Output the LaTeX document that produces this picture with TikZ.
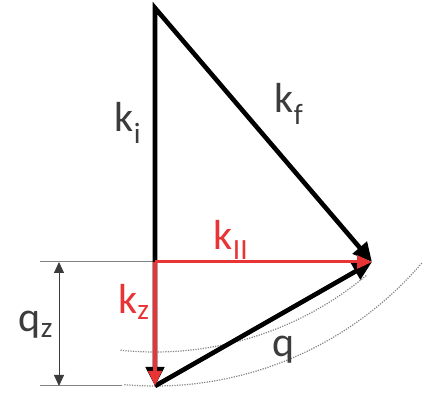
\documentclass[tikz,border=0pt]{standalone}
\usepackage{fontspec}
\setmainfont{Carlito}
\usetikzlibrary{arrows.meta}
\definecolor{kred}{RGB}{232,52,52}
\definecolor{tgray}{RGB}{60,60,60}
\definecolor{lgray}{RGB}{130,130,130}
\tikzset{
  vec/.style={line width=4.6pt, black, line join=miter},
  redvec/.style={line width=3pt, kred, -{Triangle[length=15pt,width=13pt]}},
  guide/.style={line width=1pt, lgray},
  dots/.style={line width=1.2pt, lgray, dash pattern=on 1.2pt off 1.3pt},
  lbl/.style={text=tgray, font=\fontsize{42}{48}\selectfont, inner sep=0pt},
  rlbl/.style={text=kred, font=\fontsize{42}{48}\selectfont, inner sep=0pt},
  dimarrow/.style={line width=0.9pt, tgray, {Triangle[length=11pt,width=10pt]}-{Triangle[length=11pt,width=10pt]}}
}
\begin{document}
\begin{tikzpicture}[x=1pt,y=1pt]
\useasboundingbox (0,0) rectangle (431,393);
% key points
\coordinate (A) at (155,385);
\coordinate (O) at (155,131);
\coordinate (B) at (155,7);
\coordinate (C) at (372,131);
\coordinate (L1) at (40,131);
\coordinate (L2) at (40,7);
\coordinate (L2e) at (122,7);
\coordinate (D1) at (59,131);
\coordinate (D2) at (59,7);
% dotted arcs
\draw[dots] (155,358) ++(-95:351) arc[start angle=-95, end angle=-40.5, radius=351];
\draw[dots] (155,371) ++(-96:330) arc[start angle=-96, end angle=-50, radius=330];
% guide lines
\draw[guide] (L1) -- (O);
\draw[guide] (L2) -- (L2e);
\draw[dimarrow] (D1) -- (D2);
% black vectors
\draw[vec, {Triangle[length=19pt,width=18pt]}-{Triangle[length=19pt,width=18pt]}] (B) -- (A) -- (C);
\draw[vec, -{Triangle[length=19pt,width=18pt]}] (B) -- (C);
% red vectors
\draw[redvec] (O) -- (C);
\draw[redvec, line width=3.2pt] (O) -- (B);
% labels
\node[lbl] (ki) at (128,270) {k\textsubscript{i}};
\node[lbl] (kf) at (289,289) {k\textsubscript{f}};
\node[rlbl] (kpar) at (231,153) {k\textsubscript{II}};
\node[rlbl] (kz) at (134,91) {k\textsubscript{z}};
\node[lbl] (qz) at (36,68) {q\textsubscript{z}};
\node[lbl] (q) at (284,43) {q};
\end{tikzpicture}
\end{document}
